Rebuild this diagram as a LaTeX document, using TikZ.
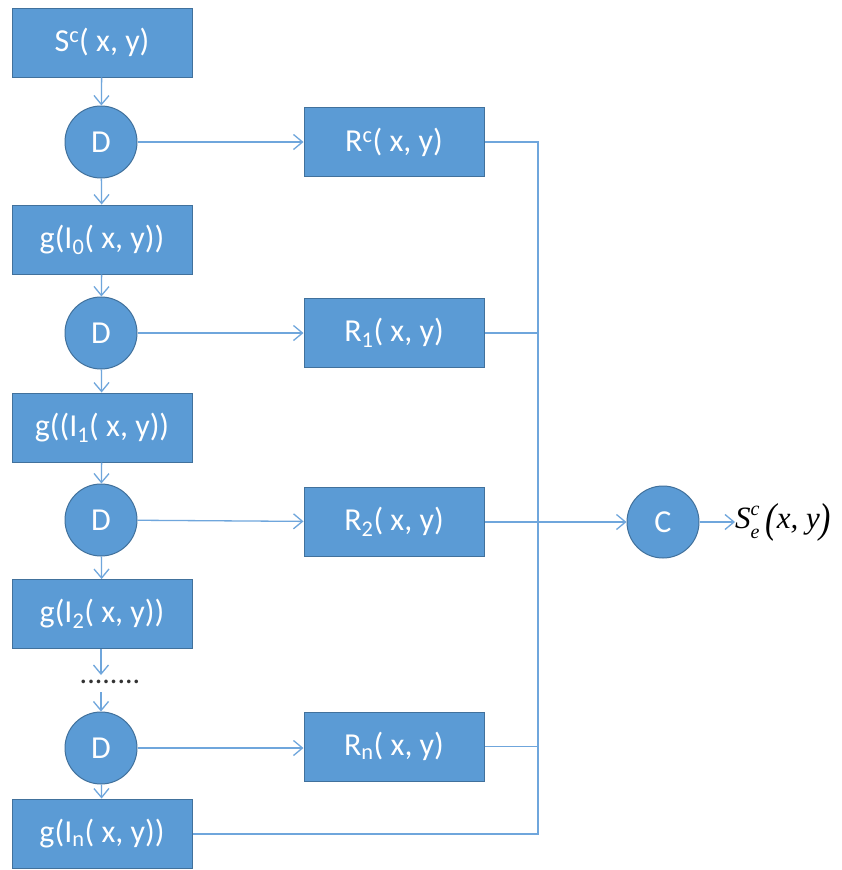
\documentclass[tikz,border=0pt]{standalone}
\usepackage{fontspec}
\setmainfont{Carlito}
\newfontfamily\tms{Liberation Serif}
\usetikzlibrary{arrows.meta}
\definecolor{boxfill}{HTML}{5B9BD5}
\definecolor{boxline}{HTML}{41719C}
\definecolor{conn}{HTML}{6FA6DC}
\begin{document}
\begin{tikzpicture}[x=1pt,y=-1pt,
  blockbox/.style={draw=boxline,line width=1pt,fill=boxfill,minimum width=180pt,minimum height=69pt,inner sep=0pt,text=white,font=\fontsize{32}{36}\selectfont},
  dnode/.style={draw=boxline,line width=1pt,fill=boxfill,circle,minimum size=72pt,inner sep=0pt,text=white,font=\fontsize{32}{36}\selectfont},
  link/.style={draw=conn,line width=1.3pt},
  arr/.style={link,-{Straight Barb[length=9pt,width=15pt,line width=1.3pt]}}
]
\useasboundingbox (0,0) rectangle (842,870);
\fill[white] (0,0) rectangle (842,870);
% left column
\node[blockbox] (s) at (102,42.5) {S\textsuperscript{c}( x, y)};
\node[dnode] (d1) at (101,142) {D};
\node[blockbox] (g0) at (102,239.5) {g(I\textsubscript{0}( x, y))};
\node[dnode] (d2) at (101,333) {D};
\node[blockbox] (g1) at (102,427.5) {g((I\textsubscript{1}( x, y))};
\node[dnode] (d3) at (101,520) {D};
\node[blockbox] (g2) at (102,614) {g(I\textsubscript{2}( x, y))};
\node[inner sep=0pt,font=\fontsize{30}{34}\selectfont,text=black!80] (dots) at (110,682) {........};
\coordinate (dotsT) at (101,675);
\coordinate (dotsB) at (101,692);
\node[dnode] (dn) at (101,748) {D};
\node[blockbox] (gn) at (102,833.5) {g(I\textsubscript{n}( x, y))};
% right column
\node[blockbox] (rc) at (394,142) {R\textsuperscript{c}( x, y)};
\node[blockbox] (r1) at (394,333) {R\textsubscript{1}( x, y)};
\node[blockbox] (r2) at (394,522) {R\textsubscript{2}( x, y)};
\node[blockbox] (rn) at (394,746.5) {R\textsubscript{n}( x, y)};
% combiner
\node[dnode] (c) at (663,522) {C};
\node[anchor=west,inner sep=0pt,font=\tms\fontsize{31}{34}\selectfont] (out) at (735,522)
  {\itshape S\makebox[0pt][l]{\raisebox{0.42em}{\fontsize{20}{22}\selectfont c}}\raisebox{-0.3em}{\fontsize{20}{22}\selectfont e}\hspace{6pt}\raisebox{-0.1em}{\scalebox{1.1}[1.35]{(}}x, y\raisebox{-0.1em}{\scalebox{1.1}[1.35]{)}}};
% bus
\coordinate (bt) at (538,142);
\coordinate (bb) at (538,834);
% vertical arrows
\draw[arr] (s) -- (d1);
\draw[arr] (d1) -- (g0);
\draw[arr] (g0) -- (d2);
\draw[arr] (d2) -- (g1);
\draw[arr] (g1) -- (d3);
\draw[arr] (d3) -- (g2);
\draw[arr] (g2.south -| dotsT) -- (dotsT);
\draw[arr] (dotsB) -- (dn.north);
\draw[arr] (dn) -- (gn);
% horizontal arrows
\draw[arr] (d1) -- (rc);
\draw[arr] (d2) -- (r1);
\draw[arr] (d3) -- (r2);
\draw[arr] (dn) -- (dn -| rn.west);
% to bus
\draw[link] (rc.east) -- (bt) -- (bb) -- (bb -| gn.east);
\draw[link] (r1.east) -- (r1.east -| bt);
\draw[link] (rn.east) -- (rn.east -| bt);
\draw[arr] (r2) -- (c);
\draw[arr] (c) -- (out);
\end{tikzpicture}
\end{document}
